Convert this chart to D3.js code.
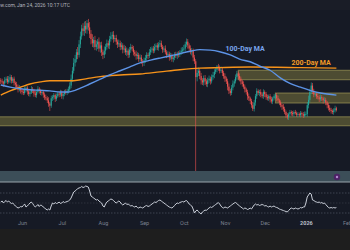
<!DOCTYPE html>
<html><head><meta charset="utf-8">
<script src="https://cdn.jsdelivr.net/npm/d3@7"></script>
<style>html,body{margin:0;padding:0;background:#1e1e1e;overflow:hidden}svg{display:block}</style>
</head><body>
<script>
// ---------- DATA ----------
const startDate = Date.UTC(2025, 4, 16);   // first daily candle
const firstOpen = 2.52;
const closes = [
2.50,2.48,2.46,2.52,2.55,2.49,2.53,2.58,2.51,2.55,
2.47,2.44,2.40,2.34,2.37,2.33,2.30,2.28,2.34,2.38,
2.31,2.26,2.29,2.35,2.33,2.27,2.24,2.30,2.36,2.32,
2.28,2.30,2.25,2.20,2.18,2.14,2.08,2.04,2.18,2.20,
2.24,2.17,2.22,2.27,2.25,2.29,2.22,2.26,2.30,2.28,
2.32,2.35,2.42,2.55,2.70,2.85,2.92,3.05,3.00,3.20,
3.35,3.50,3.45,3.55,3.48,3.60,3.52,3.40,3.30,3.22,
3.28,3.15,3.20,3.25,3.12,3.18,3.05,3.00,3.08,3.15,
3.22,3.18,3.30,3.35,3.38,3.30,3.32,3.25,3.20,3.22,
3.15,3.18,3.10,3.12,3.05,3.08,3.00,3.10,3.15,3.12,
3.05,3.02,2.98,3.00,2.92,2.95,2.88,2.85,2.90,2.94,
3.00,2.98,3.05,3.10,3.12,3.08,3.15,3.18,3.14,3.20,
3.22,3.15,3.10,3.12,3.05,3.00,3.02,2.95,2.98,2.92,
2.95,3.00,2.98,3.02,3.00,3.05,3.08,3.10,3.12,3.20,
3.25,3.18,3.12,3.05,3.08,2.95,2.88,2.58,2.66,2.70,
2.60,2.52,2.48,2.56,2.50,2.45,2.52,2.55,2.50,2.58,
2.62,2.68,2.72,2.78,2.76,2.70,2.72,2.66,2.60,2.55,
2.50,2.40,2.32,2.28,2.38,2.46,2.50,2.58,2.65,2.60,
2.55,2.50,2.45,2.40,2.35,2.30,2.22,2.18,2.13,2.05,
1.98,2.10,2.22,2.32,2.28,2.30,2.25,2.22,2.30,2.26,
2.20,2.18,2.22,2.16,2.12,2.18,2.22,2.24,2.18,2.14,
2.10,2.05,2.02,1.98,1.92,1.86,1.82,1.88,1.92,1.90,
1.88,1.92,1.90,1.87,1.88,1.86,1.90,1.88,1.85,1.88,
1.88,2.05,2.15,2.30,2.42,2.32,2.25,2.26,2.22,2.20,
2.16,2.20,2.18,2.14,2.15,2.10,2.05,2.00,1.96,1.94,
1.92,1.95,1.99,1.96];
const wickUp = [
.04,.05,.03,.06,.04,.05,.07,.05,.04,.03, .04,.03,.05,.04,.06,.03,.04,.05,.06,.04,
.03,.05,.04,.06,.04,.03,.05,.04,.05,.03, .04,.05,.03,.04,.05,.04,.06,.03,.05,.04,
.04,.03,.05,.04,.03,.05,.04,.03,.04,.05, .04,.05,.06,.08,.07,.09,.08,.06,.10,.08,
.09,.07,.10,.08,.09,.06,.08,.10,.07,.09, .06,.08,.07,.05,.08,.06,.07,.05,.08,.06,
.07,.05,.06,.08,.06,.07,.05,.06,.04,.07, .05,.06,.04,.07,.05,.06,.04,.05,.06,.04,
.05,.04,.06,.05,.04,.06,.05,.04,.05,.06, .05,.04,.06,.05,.04,.05,.06,.04,.05,.04,
.06,.05,.04,.05,.06,.04,.05,.04,.06,.05, .04,.05,.06,.04,.05,.04,.06,.05,.07,.05,
.06,.05,.04,.06,.05,.04,.05,.04,.07,.06, .05,.06,.04,.05,.06,.04,.05,.06,.04,.05,
.06,.05,.04,.03,.05,.04,.06,.05,.04,.05, .04,.05,.06,.04,.05,.06,.04,.05,.05,.04,
.05,.04,.03,.05,.04,.03,.04,.05,.03,.04, .06,.05,.04,.05,.03,.04,.05,.04,.05,.03,
.04,.05,.03,.04,.05,.03,.04,.03,.04,.05, .03,.04,.03,.05,.04,.03,.04,.03,.04,.03,
.04,.03,.04,.03,.04,.03,.04,.03,.04,.05, .05,.06,.08,.06,.06,.05,.04,.05,.04,.05,
.04,.05,.04,.03,.05,.04,.03,.04,.05,.04, .03,.04,.05,.03];
const wickDn = [
.05,.04,.06,.03,.05,.04,.03,.06,.05,.04, .05,.06,.04,.05,.03,.06,.05,.04,.03,.05,
.06,.04,.05,.03,.05,.06,.04,.05,.03,.05, .04,.05,.06,.05,.04,.05,.06,.10,.04,.05,
.05,.06,.04,.03,.05,.04,.05,.06,.04,.03, .04,.05,.04,.05,.06,.05,.07,.06,.08,.05,
.07,.06,.08,.09,.07,.08,.06,.08,.10,.07, .08,.06,.07,.09,.06,.08,.07,.08,.06,.07,
.05,.06,.07,.05,.06,.07,.05,.06,.07,.05, .06,.05,.07,.06,.05,.07,.06,.05,.06,.05,
.06,.05,.07,.06,.05,.06,.05,.07,.06,.05, .05,.06,.04,.05,.06,.05,.04,.06,.05,.06,
.05,.04,.06,.05,.04,.06,.05,.06,.04,.05, .06,.05,.04,.06,.05,.04,.05,.06,.04,.05,
.05,.06,.05,.04,.06,.07,.05,2.00,.08,.06, .06,.08,.05,.06,.07,.05,.06,.05,.06,.04,
.05,.06,.04,.05,.06,.05,.04,.06,.05,.06, .05,.07,.06,.05,.04,.05,.06,.04,.05,.06,
.05,.06,.05,.04,.06,.05,.07,.05,.06,.05, .04,.05,.06,.05,.04,.06,.05,.04,.05,.06,
.05,.04,.05,.06,.04,.05,.04,.05,.06,.04, .05,.04,.06,.05,.04,.05,.04,.05,.04,.05,
.04,.05,.03,.04,.05,.03,.04,.05,.04,.03, .04,.05,.06,.05,.04,.06,.05,.04,.05,.04,
.05,.04,.05,.06,.04,.05,.06,.05,.04,.05, .04,.05,.04,.03];
const rsiValues = [
52,54,50,53,55,52,54,51,49,50, 47,44,42,40,41,43,42,45,48,42,
44,47,50,52,49,45,42,44,47,43, 46,45,42,40,38,36,38,36,44,50,
48,51,49,50,52,49,50,53,51,52, 53,54,56,60,66,72,74,76,79,80,
81,83,81,82,84,83,82,74,64,62, 60,58,56,57,54,52,50,44,42,48,
52,54,56,58,57,55,52,50,52,54, 52,48,46,48,50,47,48,46,44,45,
43,42,44,41,40,42,41,40,42,44, 45,43,44,46,48,50,52,51,53,55,
56,54,52,50,48,46,44,42,41,40, 42,45,48,50,49,51,52,53,52,54,
55,52,48,46,44,38,30,34,36,33, 30,28,32,34,36,35,38,40,42,41,
43,45,47,49,51,48,44,41,40,42, 41,40,42,44,46,48,50,51,49,46,
44,42,40,38,40,39,37,38,40,38, 42,46,48,46,47,45,46,47,46,44,
45,43,42,44,42,43,44,42,41,40, 38,37,36,35,34,33,32,35,38,40,
39,38,40,39,38,39,41,40,42,42, 50,62,66,70,68,56,55,53,52,51,
52,50,51,49,50,47,44,41,40,41, 40,41,40,41];
const ma100Days = [0,7,15,22,30,37,45,51,56,60,67,75,82,90,97,105,113,120,131,143,150,158,165,173,180,188,195,203,211,218,226,233,241,253];
const ma100Vals = [2.43,2.39,2.36,2.34,2.33,2.32,2.30,2.30,2.33,2.37,2.45,2.54,2.62,2.70,2.77,2.85,2.90,2.94,3.00,3.07,3.10,3.09,3.06,3.00,2.92,2.87,2.79,2.71,2.56,2.46,2.39,2.33,2.28,2.24];
const ma200Days = [0,7,15,22,30,37,52,60,67,75,90,105,120,135,150,165,188,226,253];
const ma200Vals = [2.24,2.32,2.39,2.45,2.49,2.51,2.51,2.53,2.56,2.59,2.62,2.64,2.68,2.72,2.75,2.76,2.77,2.76,2.75];
const zoneStarts = ["2025-05-01","2025-11-11","2025-12-09"];
const zoneTops = [1.83,2.71,2.28];
const zoneBottoms = [1.66,2.53,2.09];
const monthTicks = ["2025-06-01","2025-07-01","2025-08-01","2025-09-01","2025-10-01","2025-11-01","2025-12-01","2026-01-01","2026-02-01"];
const monthLabels = ["Jun","Jul","Aug","Sep","Oct","Nov","Dec","2026","Feb"];
const headerText = "TradingView.com, Jan 24, 2026 10:17 UTC";

// ---------- CHART ----------
const W = 350, H = 250;
const svg = d3.select("body").append("svg").attr("width", W).attr("height", H);
const BG = "#161a25";
svg.append("rect").attr("width", W).attr("height", H).attr("fill", "#1e1e1e");
svg.append("rect").attr("width", W).attr("height", 229).attr("fill", BG);
svg.append("rect").attr("width", W).attr("height", 10).attr("fill", "#1a1d27");

const x = d3.scaleUtc().domain([new Date("2025-06-01"), new Date("2026-02-01")]).range([22, 347]);
const y = d3.scaleLinear().domain([1, 4]).range([160.7, 2]);
const yR = d3.scaleLinear().domain([0, 100]).range([228, 178]);
const dayDate = i => new Date(startDate + i * 864e5);

const defs = svg.append("defs");
defs.append("clipPath").attr("id", "cp").append("rect").attr("x", 0).attr("y", 10).attr("width", W).attr("height", 161);
defs.append("clipPath").attr("id", "cr").append("rect").attr("x", 0).attr("y", 183).attr("width", W).attr("height", 36);

// header
svg.append("text").attr("x", 70).attr("y", 7).attr("text-anchor", "end")
  .attr("font-family", "Roboto, sans-serif").attr("font-size", 5).attr("fill", "#b2b5be").text(headerText);

const main = svg.append("g").attr("clip-path", "url(#cp)");

// zones
zoneStarts.forEach((s, k) => {
  main.append("rect")
    .attr("x", x(new Date(s))).attr("y", y(zoneTops[k]))
    .attr("width", W - x(new Date(s)) + 5).attr("height", y(zoneBottoms[k]) - y(zoneTops[k]))
    .attr("fill", "rgba(190,180,80,0.33)").attr("stroke", "rgba(215,205,110,0.45)").attr("stroke-width", 1);
});

// candles
const candles = closes.map((c, i) => {
  const o = i === 0 ? firstOpen : closes[i - 1];
  return { d: dayDate(i), o, c, h: Math.max(o, c) + wickUp[i], l: Math.min(o, c) - wickDn[i] };
});
const UP = "#26a69a", DN = "#ef5350";
const cg = main.append("g");
cg.selectAll("rect.w").data(candles).join("rect").attr("class", "w")
  .attr("x", d => x(d.d) - 0.3).attr("width", 0.6)
  .attr("y", d => y(d.h)).attr("height", d => y(d.l) - y(d.h))
  .attr("fill", d => d.c >= d.o ? UP : DN);
cg.selectAll("rect.b").data(candles).join("rect").attr("class", "b")
  .attr("x", d => x(d.d) - 0.55).attr("width", 1.1)
  .attr("y", d => y(Math.max(d.o, d.c)))
  .attr("height", d => Math.max(0.8, Math.abs(y(d.o) - y(d.c))))
  .attr("fill", d => d.c >= d.o ? UP : DN);

// moving averages
const line = d3.line().x(d => x(d[0])).y(d => y(d[1])).curve(d3.curveMonotoneX);
main.append("path").datum(ma200Days.map((dd, k) => [dayDate(dd), ma200Vals[k]]))
  .attr("d", line).attr("fill", "none").attr("stroke", "#f7931a").attr("stroke-width", 1.4);
main.append("path").datum(ma100Days.map((dd, k) => [dayDate(dd), ma100Vals[k]]))
  .attr("d", line).attr("fill", "none").attr("stroke", "#5d93e6").attr("stroke-width", 1.4);

svg.append("text").attr("x", 245).attr("y", 50.5).attr("text-anchor", "middle")
  .attr("font-family", "Roboto, sans-serif").attr("font-weight", 700).attr("font-size", 7)
  .attr("fill", "#7aa6ee").text("100-Day MA");
svg.append("text").attr("x", 311).attr("y", 64.5).attr("text-anchor", "middle")
  .attr("font-family", "Roboto, sans-serif").attr("font-weight", 700).attr("font-size", 7)
  .attr("fill", "#f39a26").text("200-Day MA");

// separator band
svg.append("rect").attr("x", 0).attr("y", 171).attr("width", W).attr("height", 11).attr("fill", "#3c4e58");
svg.append("rect").attr("x", 0).attr("y", 181.5).attr("width", W).attr("height", 1).attr("fill", "#98a4ab");
svg.append("circle").attr("cx", 337).attr("cy", 177).attr("r", 3.2).attr("fill", "#4d2266");
svg.append("circle").attr("cx", 337).attr("cy", 177).attr("r", 1.2).attr("fill", "#b48ad0");

// RSI
const rg = svg.append("g").attr("clip-path", "url(#cr)");
[70, 50, 30].forEach((v, k) => {
  rg.append("line").attr("x1", 0).attr("x2", W).attr("y1", yR(v)).attr("y2", yR(v))
    .attr("stroke", k === 1 ? "#2c313d" : "#3d4350").attr("stroke-width", 1).attr("stroke-dasharray", "1.5,1.5");
});
rg.append("path").datum(rsiValues.map((v, i) => [dayDate(i), v]))
  .attr("d", d3.line().x(d => x(d[0])).y(d => yR(d[1])))
  .attr("fill", "none").attr("stroke", "#c9ced8").attr("stroke-width", 1);

// x axis
const axis = d3.axisBottom(x).tickValues(monthTicks.map(s => new Date(s)))
  .tickFormat((d, i) => monthLabels[i]).tickSize(0).tickPadding(0);
const ax = svg.append("g").attr("transform", "translate(0,221)").call(axis);
ax.select(".domain").remove();
ax.selectAll("text").attr("font-family", "Roboto, sans-serif").attr("font-size", 5.5)
  .attr("fill", "#7c8190").attr("dy", "0.71em")
  .attr("font-weight", (d, i) => monthLabels[i] === "2026" ? 700 : 400)
  .attr("fill", (d, i) => monthLabels[i] === "2026" ? "#b8bcc6" : "#7c8190");
</script>
</body></html>
